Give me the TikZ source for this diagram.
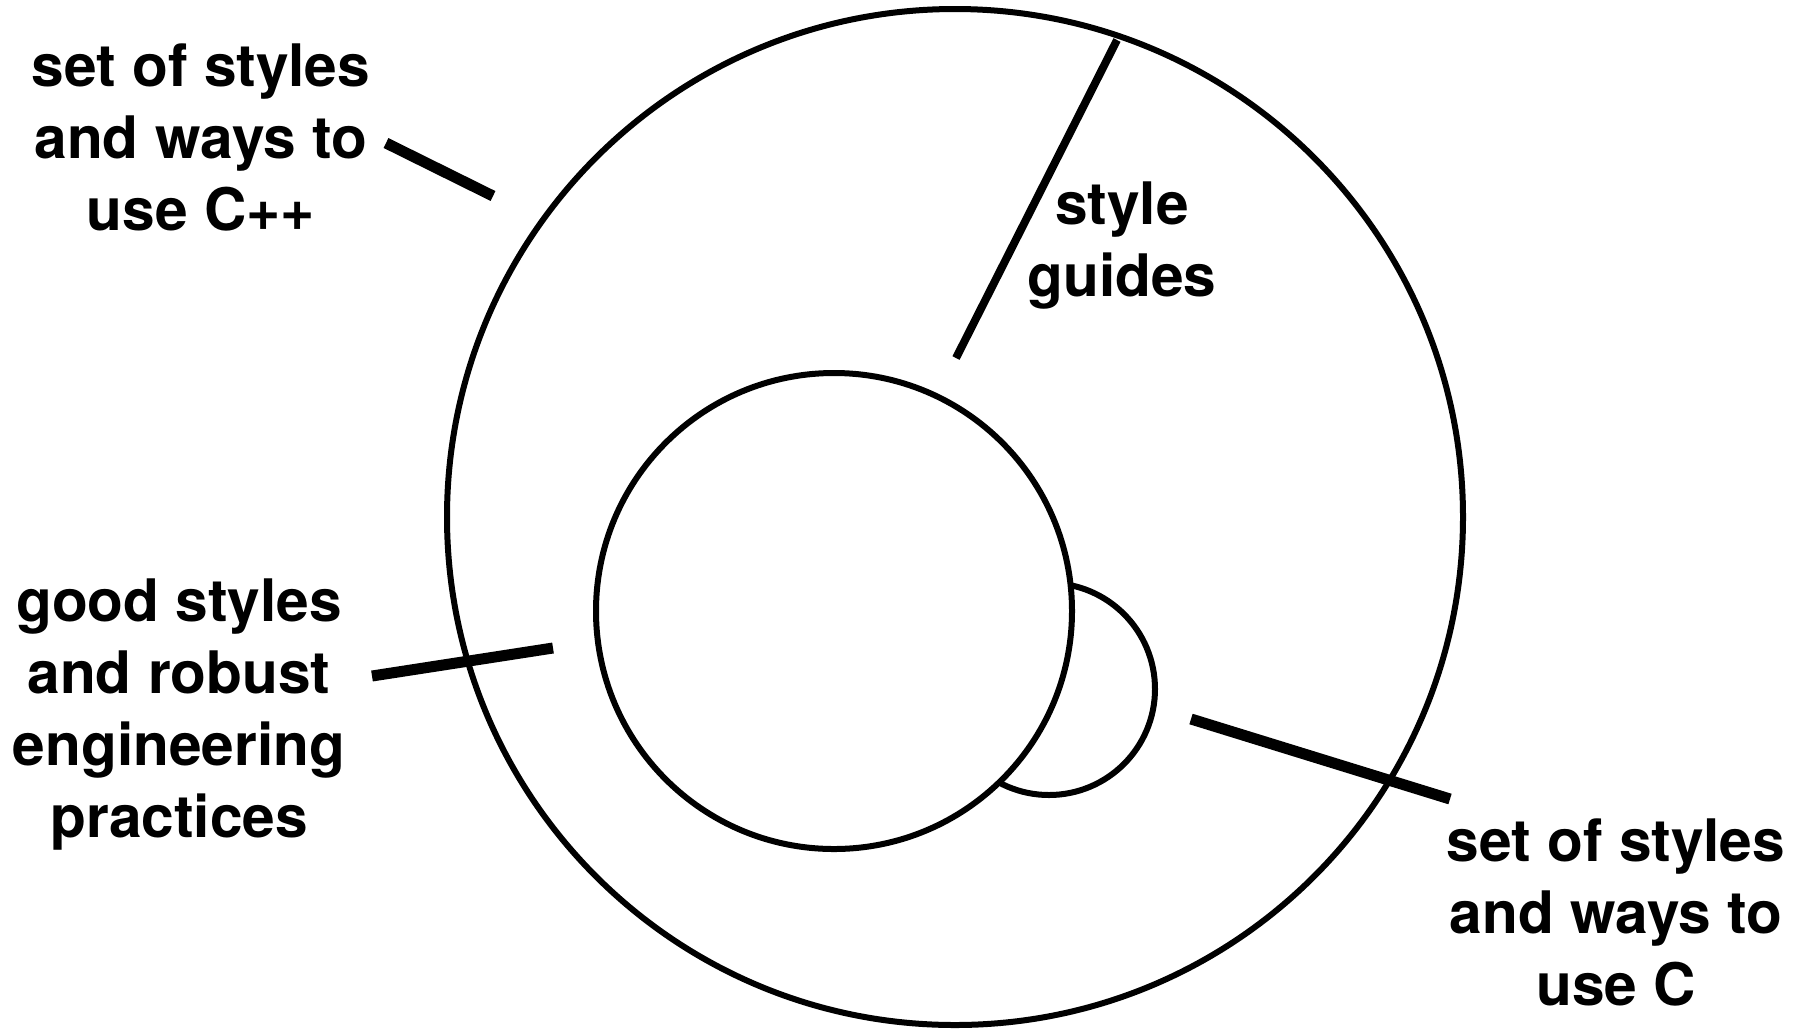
\documentclass[tikz,border=0pt]{standalone}
\usepackage{fontspec}
\setmainfont{TeX Gyre Heros}
\usetikzlibrary{positioning}

\begin{document}
\begin{tikzpicture}[
  x=0.5pt,y=-0.5pt,
  every node/.style={font=\bfseries\fontsize{29.3}{36}\selectfont,align=center},
  ring/.style={circle,draw,line width=3pt,inner sep=0pt,outer sep=0pt},
  lead/.style={line width=5.5pt},
  guide/.style={line width=4pt}]
\useasboundingbox (0,0) rectangle (1810,1030);
% circles
\node[ring,minimum size=508pt] (outer) at (955,517) {};
\node[ring,minimum size=106pt] (bump) at (1049,689) {};
\node[ring,fill=white,minimum size=238pt] (inner) at (834,611) {};
% labels
\node (cpp) at (201,137) {set of styles\\and ways to\\use C++};
\node (guides) at (1122,246) {style\\guides};
\node (good) at (179,715) {good styles\\and robust\\engineering\\practices};
\node (plainc) at (1616,912) {set of styles\\and ways to\\use C};
% leader lines
\coordinate (cppA) at (386,143);
\coordinate (cppB) at (493,196);
\coordinate (guideA) at (1117,40);
\coordinate (guideB) at (956,358);
\coordinate (goodA) at (372,676);
\coordinate (goodB) at (553,648);
\coordinate (plaincA) at (1191,719);
\coordinate (plaincB) at (1450,799);
\draw[lead] (cppA)--(cppB);
\draw[guide] (guideA)--(guideB);
\draw[lead] (goodA)--(goodB);
\draw[lead] (plaincA)--(plaincB);
\end{tikzpicture}
\end{document}
